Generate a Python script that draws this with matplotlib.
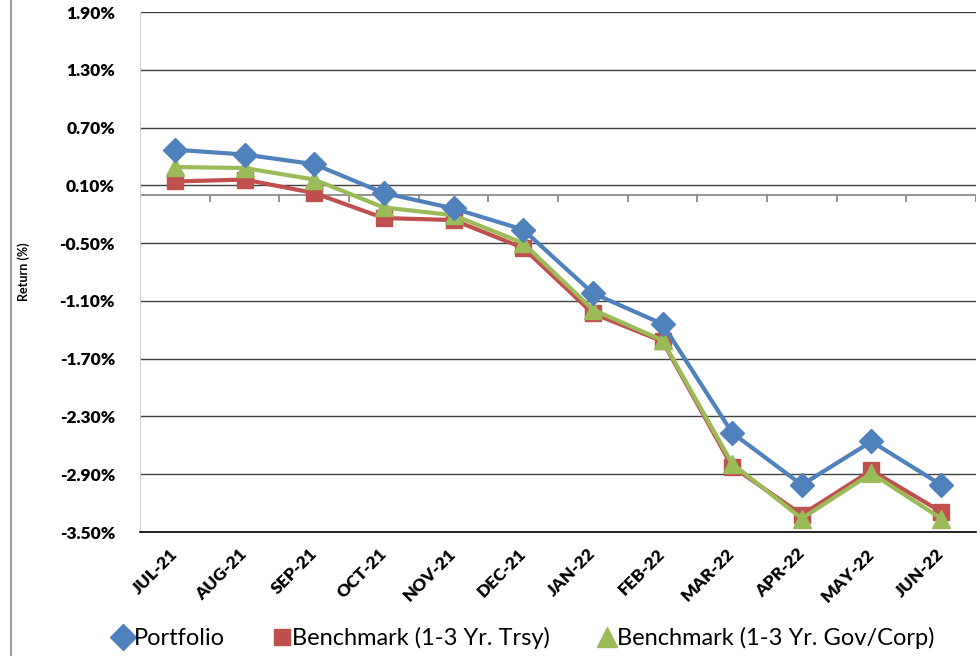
import numpy as np
import matplotlib
matplotlib.use("Agg")
import matplotlib.pyplot as plt
from matplotlib.lines import Line2D
from matplotlib.ticker import FuncFormatter

plt.rcParams['font.family'] = ['Lato', 'DejaVu Sans']

months = ['JUL-21', 'AUG-21', 'SEP-21', 'OCT-21', 'NOV-21', 'DEC-21',
          'JAN-22', 'FEB-22', 'MAR-22', 'APR-22', 'MAY-22', 'JUN-22']
portfolio = [0.47, 0.42, 0.32, 0.02, -0.14, -0.36, -1.02, -1.34, -2.47, -3.01, -2.56, -3.01]
bench_trsy = [0.14, 0.16, 0.02, -0.24, -0.26, -0.55, -1.23, -1.52, -2.82, -3.32, -2.86, -3.29]
bench_govcorp = [0.29, 0.28, 0.16, -0.13, -0.21, -0.50, -1.19, -1.51, -2.79, -3.36, -2.89, -3.36]
yticks = [1.9, 1.3, 0.7, 0.1, -0.5, -1.1, -1.7, -2.3, -2.9, -3.5]

fig = plt.figure(figsize=(9.8, 6.56), dpi=100)
ax = fig.add_axes([0.1429, 0.189, 0.853, 0.7927])

x = np.arange(len(months))
series = [
    (portfolio, '#4F81BD', 'D', 12, 'Portfolio', 5),
    (bench_trsy, '#C0504D', 's', 11, 'Benchmark (1-3 Yr. Trsy)', 3),
    (bench_govcorp, '#9BBB59', '^', 13, 'Benchmark (1-3 Yr. Gov/Corp)', 4),
]
handles = []
for vals, col, mk, ms, lab, z in series:
    ax.plot(x, vals, color=col, lw=3, marker=mk, ms=ms, zorder=z)
    handles.append(Line2D([], [], ls='none', color=col, marker=mk, ms=ms + 1, label=lab))

ax.set_xlim(-0.5, len(months) - 0.5)
ax.set_ylim(-3.5, 1.9)
ax.set_yticks(yticks)
ax.yaxis.set_major_formatter(FuncFormatter(lambda v, p: '%.2f%%' % v))
ax.tick_params(axis='y', length=0, pad=18, labelsize=12.5)
for t in ax.get_yticklabels():
    t.set_fontweight('heavy')
ax.grid(axis='y', color='#404040', lw=1)
ax.set_axisbelow(True)

# zero line with category boundary ticks
ax.axhline(0, color='#808080', lw=1.2, zorder=1)
ax.vlines(np.arange(len(months) + 1) - 0.5, -0.075, 0, color='#808080', lw=1.2, zorder=1)

ax.set_xticks(x)
ax.set_xticklabels(months, rotation=45, ha='right', va='center', rotation_mode='anchor',
                   fontweight='heavy', fontsize=12.5)
ax.tick_params(axis='x', length=0, pad=14)

for s in ['top', 'right']:
    ax.spines[s].set_visible(False)
ax.spines['left'].set_color('#D0D0D0')
ax.spines['bottom'].set_color('black')
ax.spines['bottom'].set_linewidth(1.2)

ax.set_ylabel('Return (%)', fontsize=9, fontweight='bold')
ax.yaxis.set_label_coords(-0.132, 0.5)

fig.add_artist(Line2D([0.011, 0.011], [0, 1], color='#A0A0A0', lw=1.5))

fig.legend(handles=handles, loc='center', bbox_to_anchor=(0.535, 0.027), ncol=3, frameon=False,
           fontsize=17, handlelength=0.8, handletextpad=0.05, columnspacing=2.0)

fig.savefig('out.png', dpi=100)
